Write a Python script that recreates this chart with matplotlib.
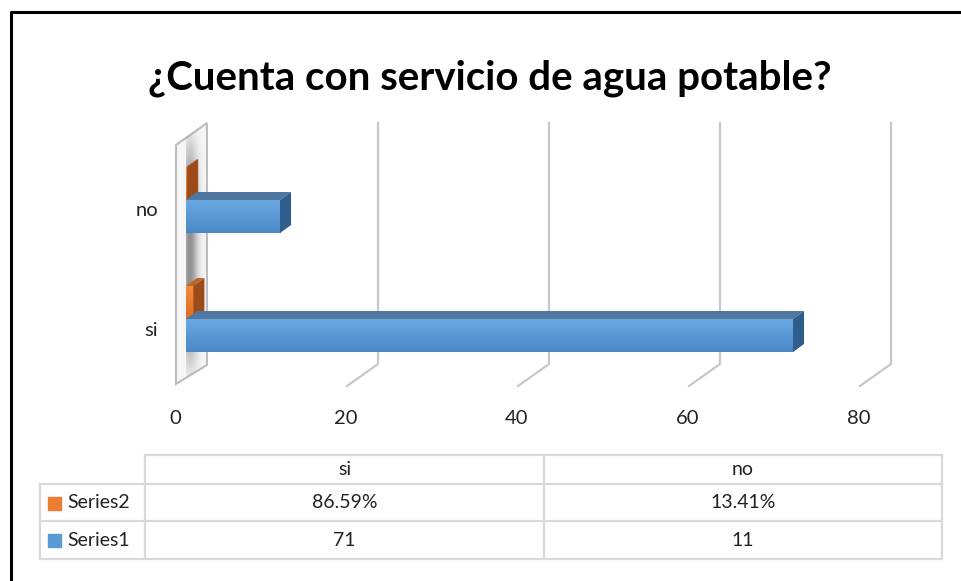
import numpy as np
import matplotlib.pyplot as plt
from matplotlib.patches import Polygon, Rectangle
from matplotlib.lines import Line2D

# data
categories = ['si', 'no']
series_names = ['Series1', 'Series2']
series1 = [71, 11]
series2 = [0.8659, 0.1341]
x_ticks = [0, 20, 40, 60, 80]
title = '¿Cuenta con servicio de agua potable?'

plt.rcParams['font.family'] = ['Lato', 'DejaVu Sans']

W, H = 962, 581
fig = plt.figure(figsize=(W / 100, H / 100), dpi=100)

# main axes: x=0 at px 186, 8.55 px per unit, categories 119 px apart
px_x = 8.55
px_y = 119.0
left_px, x_max = 186, 85
top_px, bot_px = 123, 386
cat0_px = 319  # pixel row of first category


def dx(p):
    return p / px_x


def dy(p):
    return p / px_y


def yd(p):  # pixel row -> data y
    return (cat0_px - p) / px_y


def xd(p):  # pixel col -> data x
    return (p - left_px) / px_x


ax = fig.add_axes([left_px / W, (H - bot_px) / H, x_max * px_x / W, (bot_px - top_px) / H])
ax.set_xlim(0, x_max)
ax.set_ylim(yd(bot_px), yd(top_px))
ax.axis('off')

grid_c = '#c8c8c8'
# gridlines (back wall + floor diagonal)
for v in x_ticks[1:]:
    xb = v + dx(21)
    ax.add_line(Line2D([xb, xb, v - dx(10)], [yd(123), yd(364), yd(386)],
                       color=grid_c, lw=1.6, clip_on=False, zorder=1))

# side wall at x=0
wall = Polygon([(xd(176), yd(145)), (xd(207), yd(123)), (xd(207), yd(365)), (xd(176), yd(384))],
               closed=True, facecolor='#f6f6f6', edgecolor='#bdbdbd', lw=1.5, clip_on=False, zorder=2)
ax.add_patch(wall)
# soft shadow inside the wall
gx = np.linspace(0, 1, 60)
gy = np.linspace(0, 1, 200)
GX, GY = np.meshgrid(gx, gy)
a = np.exp(-((GX - 0.45) / 0.25) ** 2) * np.clip(np.sin(np.pi * GY) * 1.4, 0, 1) * 0.6
img = np.zeros((200, 60, 4))
img[..., :3] = 0.3
img[..., 3] = a
im = ax.imshow(img, extent=(xd(176), xd(207), yd(384), yd(123)), aspect='auto',
               zorder=2.5, interpolation='bilinear', clip_on=True)
im.set_clip_path(wall)

# 3D bars
bar_h = dy(33)
ddx, ddy = dx(11), dy(8)
blue = dict(front='#5b9bd5', top='#50779f', side='#2f5d8c', light='#6aa8e0', dark='#4a89c8')
orange = dict(front='#ed7d31', top='#b8662e', side='#9c4b1b', light='#f58a3c', dark='#dd6e25')


def bar3d(yc, w, col, z):
    b = ax.barh([yc], [w], height=bar_h, align='edge', color=col['front'], lw=0, zorder=z)[0]
    y0 = yc
    g = np.linspace(0, 1, 50)[:, None, None]
    c1 = np.array(plt.matplotlib.colors.to_rgb(col['light']))
    c2 = np.array(plt.matplotlib.colors.to_rgb(col['dark']))
    grad = (c1 * (1 - g) + c2 * g) * np.ones((1, 2, 1))
    gi = ax.imshow(grad, extent=(0, w, y0, y0 + bar_h), aspect='auto', zorder=z + 0.01,
                   interpolation='bilinear')
    gi.set_clip_path(b)
    top = Polygon([(0, y0 + bar_h), (w, y0 + bar_h), (w + ddx, y0 + bar_h + ddy), (ddx, y0 + bar_h + ddy)],
                  closed=True, facecolor=col['top'], lw=0, zorder=z + 0.02)
    side = Polygon([(w, y0), (w + ddx, y0 + ddy), (w + ddx, y0 + bar_h + ddy), (w, y0 + bar_h)],
                   closed=True, facecolor=col['side'], lw=0, zorder=z + 0.02)
    ax.add_patch(top)
    ax.add_patch(side)


order = sorted(range(len(categories)), key=lambda i: -i)
z = 3
for i in order:
    bar3d(i, series2[i], orange, z)
    z += 0.1
    bar3d(i - bar_h, series1[i], blue, z)
    z += 0.1

# category labels
for i, c in enumerate(categories):
    ax.text(xd(158), i + yd(330) - yd(cat0_px), c, ha='right', va='center', fontsize=14.5, color='#222222')

# value axis labels
for v in x_ticks:
    ax.text(v - dx(11), yd(418), str(v), ha='center', va='center', fontsize=14.5, color='#222222',
            clip_on=False)

# title
fig.text(490 / W, 1 - 78 / H, title, ha='center', va='center', fontsize=29, fontweight='bold')

# overlay canvas for border and data table
cv = fig.add_axes([0, 0, 1, 1], zorder=-1)
cv.set_xlim(0, W)
cv.set_ylim(H, 0)
cv.axis('off')
cv.add_line(Line2D([11, 11, W + 5], [H + 5, 12, 12], color='black', lw=2.2))

tc = '#d9d9d9'
rows_y = [455, 484, 521, 559]
cols_x = [40, 145, 544, 942]
cv.add_line(Line2D([145, 942], [455, 455], color=tc, lw=1.6))
for y in rows_y[1:]:
    cv.add_line(Line2D([40, 942], [y, y], color=tc, lw=1.6))
cv.add_line(Line2D([40, 40], [484, 559], color=tc, lw=1.6))
for x in cols_x[1:]:
    cv.add_line(Line2D([x, x], [455, 559], color=tc, lw=1.6))

for j, c in enumerate(categories):
    xc = (cols_x[j + 1] + cols_x[j + 2]) / 2
    cv.text(xc, (rows_y[0] + rows_y[1]) / 2, c, ha='center', va='center', fontsize=14, color='#222222')
    cv.text(xc, (rows_y[1] + rows_y[2]) / 2, f'{series2[j] * 100:.2f}%', ha='center', va='center',
            fontsize=14, color='#222222')
    cv.text(xc, (rows_y[2] + rows_y[3]) / 2, f'{series1[j]}', ha='center', va='center',
            fontsize=14, color='#222222')

for k, (name, col) in enumerate([(series_names[1], orange['front']), (series_names[0], blue['front'])]):
    yc = (rows_y[k + 1] + rows_y[k + 2]) / 2
    cv.add_patch(Rectangle((48, yc - 6), 13, 13, color=col))
    cv.text(67, yc, name, ha='left', va='center', fontsize=14, color='#222222')

fig.savefig('out.png', dpi=100)
